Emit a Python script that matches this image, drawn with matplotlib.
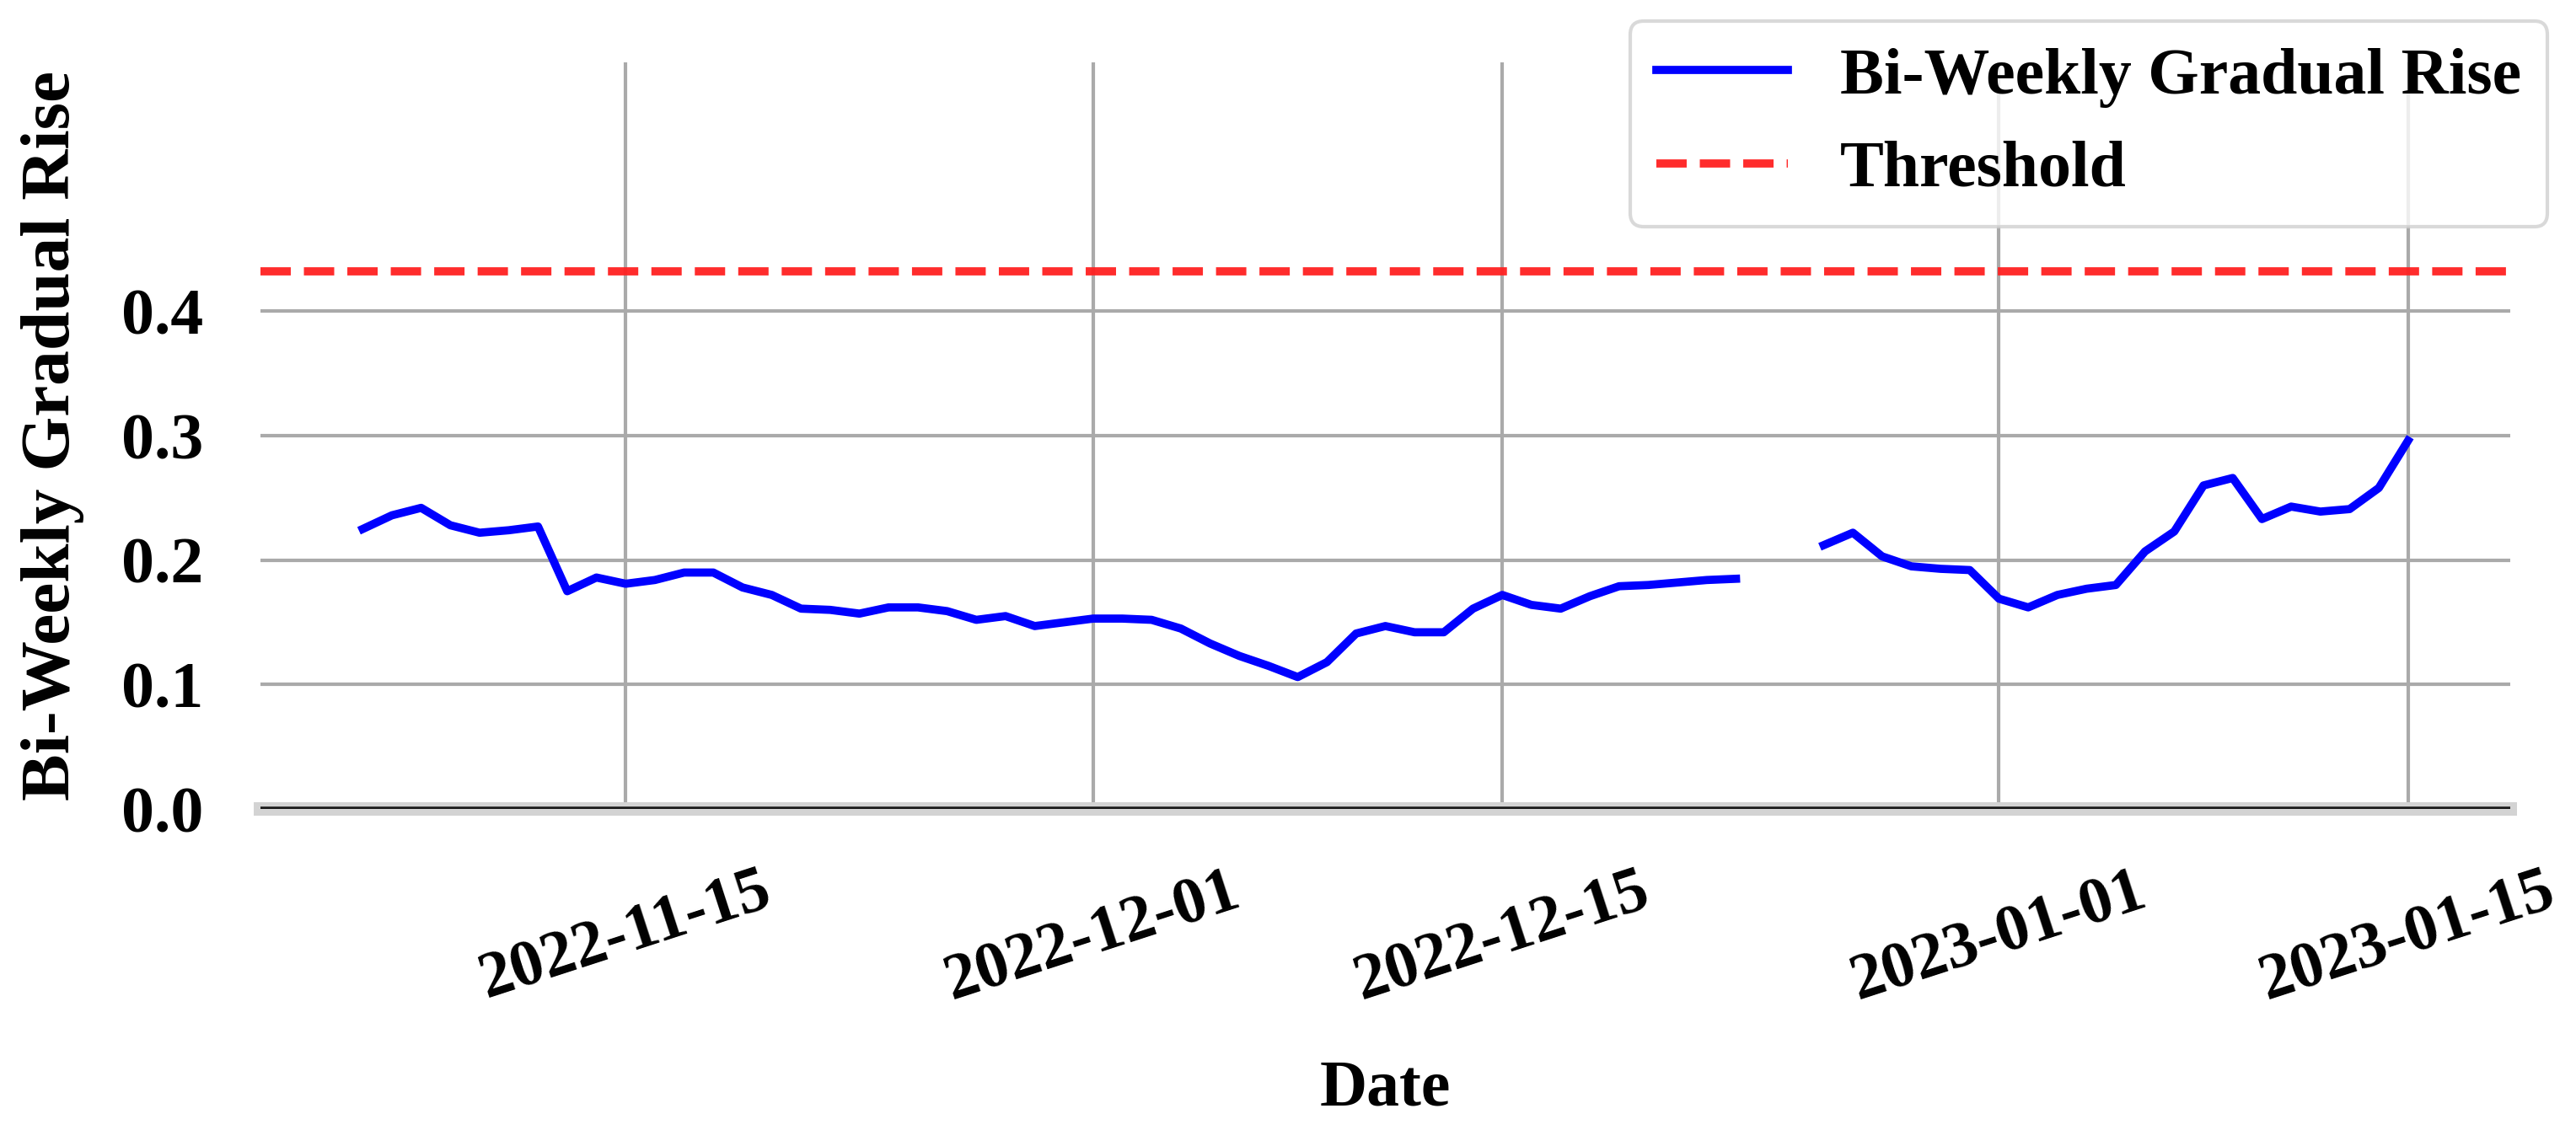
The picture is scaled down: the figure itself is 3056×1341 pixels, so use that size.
import numpy as np
import pandas as pd
import matplotlib
matplotlib.use("Agg")
import matplotlib.pyplot as plt

# Daily values, 2022-11-06 .. 2023-01-15 (two missing days around Christmas)
start_date = "2022-11-06"
end_date = "2023-01-15"
rise_values = [
    0.225, 0.236, 0.242, 0.228, 0.222, 0.224, 0.227, 0.175, 0.186, 0.181,
    0.184, 0.190, 0.190, 0.178, 0.172, 0.161, 0.160, 0.157, 0.162, 0.162,
    0.159, 0.152, 0.155, 0.147, 0.150, 0.153, 0.153, 0.152, 0.145, 0.133,
    0.123, 0.115, 0.106, 0.118, 0.141, 0.147, 0.142, 0.142, 0.161, 0.172,
    0.164, 0.161, 0.171, 0.179, 0.180, 0.182, 0.184, 0.185, np.nan, np.nan,
    0.212, 0.222, 0.203, 0.195, 0.193, 0.192, 0.169, 0.162, 0.172, 0.177,
    0.180, 0.207, 0.223, 0.260, 0.266, 0.233, 0.243, 0.239, 0.241, 0.258,
    0.296,
]
threshold = 0.432
y_ticks = [0.0, 0.1, 0.2, 0.3, 0.4]
x_ticks = ["2022-11-15", "2022-12-01", "2022-12-15", "2023-01-01", "2023-01-15"]

dates = pd.date_range(start_date, end_date, freq="D")
df = pd.DataFrame({"Date": dates, "Rise": rise_values})

plt.rcParams["font.family"] = ["Liberation Serif", "DejaVu Serif"]
plt.rcParams["font.weight"] = "bold"
plt.rcParams["font.size"] = 56

fig = plt.figure(figsize=(30.56, 13.41), dpi=100)
ax = fig.add_axes([0.1011, 0.2841, 0.8734, 0.6607])

ax.plot(df["Date"], df["Rise"], color="blue", linewidth=7, label="Bi-Weekly Gradual Rise")
ax.axhline(threshold, color="#ff2020", linestyle="--", linewidth=7, alpha=0.95, label="Threshold")

ax.set_ylim(0, 0.6)
ax.set_yticks(y_ticks)
ax.set_yticklabels([f"{v:.1f}" for v in y_ticks])
ax.set_xticks(pd.to_datetime(x_ticks))
ax.set_xticklabels(x_ticks, rotation=18, ha="center")

ax.grid(True, color="#aaaaaa", linewidth=3)
ax.set_axisbelow(True)
for side in ["top", "right", "left"]:
    ax.spines[side].set_visible(False)
ax.spines["bottom"].set_color("#d3d3d3")
ax.spines["bottom"].set_linewidth(11.5)
ax.axhline(0, color="#1a1a1a", linewidth=4, zorder=3)

ax.tick_params(axis="y", length=0, pad=49)
ax.tick_params(axis="x", length=0, pad=45)

ax.set_xlabel("Date", fontweight="bold", labelpad=40)
ax.set_ylabel("Bi-Weekly Gradual Rise", fontweight="bold", fontsize=60, labelpad=31)

leg = ax.legend(loc="upper right", bbox_to_anchor=(1.0165, 1.0553), borderaxespad=0,
                fontsize=56, framealpha=0.8, edgecolor="#d0d0d0")
leg.get_frame().set_linewidth(3)

plt.savefig("out.png", dpi=100)
print("saved out.png")
